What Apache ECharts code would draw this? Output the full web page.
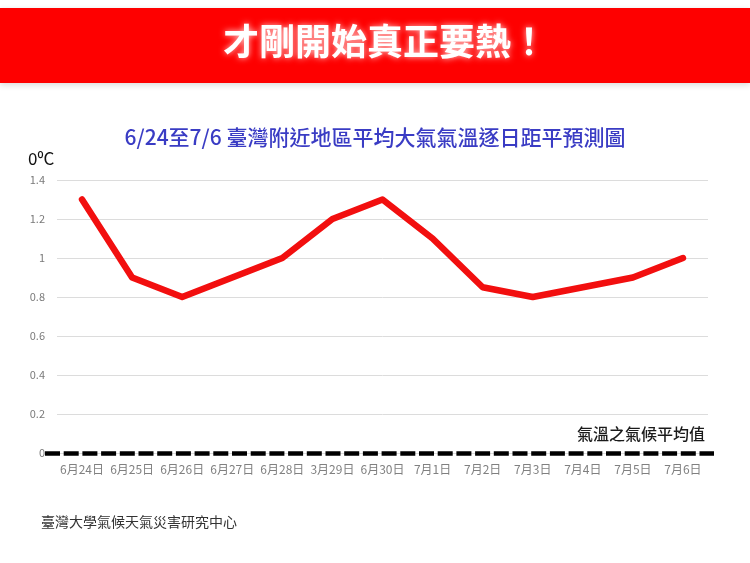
<!DOCTYPE html>
<html>
<head>
<meta charset="utf-8">
<script src="https://cdn.jsdelivr.net/npm/echarts@6/dist/echarts.min.js"></script>
<style>
  html, body { margin: 0; padding: 0; background: #fff; }
  #chart-container { width: 750px; height: 563px; }
</style>
</head>
<body>
<div id="chart-container"></div>
<script>
const dias = ['6月24日', '6月25日', '6月26日', '6月27日', '6月28日', '3月29日', '6月30日',
    '7月1日', '7月2日', '7月3日', '7月4日', '7月5日', '7月6日'];
const anomalias = [1.3, 0.9, 0.8, 0.9, 1.0, 1.2, 1.3, 1.1, 0.85, 0.8, 0.85, 0.9, 1.0];
const yMin = 0;
const yMax = 1.4;
const yPaso = 0.2;

const fuente = '"Noto Sans CJK TC", "Noto Sans", sans-serif';

document.addEventListener('DOMContentLoaded', function () {

    const chartContainer = document.getElementById('chart-container');

    const option = {
        backgroundColor: '#fff',
        animation: false,
        textStyle: { fontFamily: fuente },
        title: [
            {
                text: '6/24至7/6 臺灣附近地區平均大氣氣溫逐日距平預測圖',
                left: 'center',
                top: 122,
                textStyle: { color: '#3a3cc4', fontSize: 21, fontWeight: 500, fontFamily: fuente }
            },
            {
                text: '0⁰C',
                left: 23,
                top: 145,
                textStyle: { color: '#111', fontSize: 17, fontWeight: 'normal', fontFamily: fuente }
            },
            {
                text: '氣溫之氣候平均值',
                right: 40,
                top: 421,
                textStyle: { color: '#1a1a1a', fontSize: 16, fontWeight: 500, fontFamily: fuente }
            },
            {
                text: '臺灣大學氣候天氣災害研究中心',
                left: 36,
                top: 510,
                textStyle: { color: '#333', fontSize: 14, fontWeight: 'normal', fontFamily: fuente }
            }
        ],
        graphic: [
            {
                type: 'rect',
                shape: { x: 0, y: 8, width: 750, height: 75 },
                style: { fill: '#fe0000', shadowBlur: 6, shadowColor: 'rgba(0,0,0,0.15)', shadowOffsetY: 2 }
            },
            {
                type: 'text',
                left: 223,
                top: 23,
                style: {
                    text: '才剛開始真正要熱！',
                    fill: '#fff',
                    font: 'bold 36px ' + fuente,
                    textShadowColor: 'rgba(255,230,230,0.9)',
                    textShadowBlur: 6
                }
            }
        ],
        grid: [
            { left: 57, right: 42, top: 180, bottom: 110 },
            { left: 45, right: 36, top: 180, bottom: 110 }
        ],
        xAxis: [
            {
                type: 'category',
                data: dias,
                gridIndex: 0,
                axisLine: { show: false },
                axisTick: { show: false },
                axisLabel: { color: '#808080', fontSize: 12, margin: 10, interval: 0 }
            },
            {
                type: 'value',
                gridIndex: 1,
                min: 0,
                max: 1,
                z: 10,
                axisLine: { show: true, lineStyle: { color: '#000', width: 4.5, type: [15, 3.7], cap: 'butt' } },
                axisTick: { show: false },
                axisLabel: { show: false },
                splitLine: { show: false }
            }
        ],
        yAxis: [
            {
                type: 'value',
                gridIndex: 0,
                min: yMin,
                max: yMax,
                interval: yPaso,
                axisLine: { show: false },
                axisTick: { show: false },
                axisLabel: {
                    color: '#7a7a7a',
                    fontSize: 11,
                    margin: 12,
                    formatter: function (v) { return String(Math.round(v * 10) / 10); }
                },
                splitLine: { lineStyle: { color: '#dcdcdc', width: 1 } }
            },
            {
                type: 'value',
                gridIndex: 1,
                min: yMin,
                max: yMax,
                show: false
            }
        ],
        series: [
            {
                name: '距平',
                type: 'line',
                xAxisIndex: 0,
                yAxisIndex: 0,
                data: anomalias,
                showSymbol: false,
                symbol: 'none',
                lineStyle: { color: '#f20f0f', width: 6.5, join: 'round', cap: 'round' },
                z: 5
            }
        ]
    };

    const chart = echarts.init(chartContainer);
    chart.setOption(option);

})
</script>
</body>
</html>
